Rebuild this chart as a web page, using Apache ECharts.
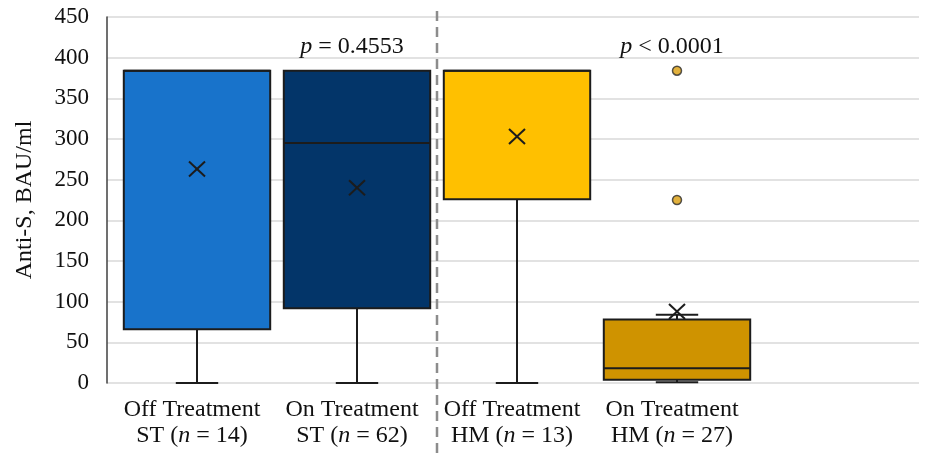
<!DOCTYPE html>
<html>
<head>
<meta charset="utf-8">
<script src="https://cdn.jsdelivr.net/npm/echarts@6/dist/echarts.min.js"></script>
<style>html,body{margin:0;padding:0;background:#fff;}#c{width:933px;height:453px;}</style>
</head>
<body>
<div id="c"></div>
<script>
// ---- data ----
const groupNames = ['Off Treatment', 'On Treatment', 'Off Treatment', 'On Treatment'];
const groupCodes = ['ST', 'ST', 'HM', 'HM'];
const groupN = [14, 62, 13, 27];
const lowVals = [0, 0, 0, 1];
const q1Vals = [66, 92, 226, 4];
const medianVals = [384, 295, 384, 18];
const q3Vals = [384, 384, 384, 78];
const highVals = [384, 384, 384, 84];
const meanVals = [263, 240, 303, 88];
const outlierGroup = [3, 3];
const outlierVals = [384, 225];
const pTexts = ['= 0.4553', '< 0.0001'];
const pGroups = [1, 3];
const dividerAt = [1.5];
const yTicks = [0, 50, 100, 150, 200, 250, 300, 350, 400, 450];

const boxColors = ['#1873CB', '#033569', '#FFC000', '#CF9300'];
const FONT = '"Liberation Serif", "Times New Roman", serif';

const boxData = groupNames.map((_, i) => [i, lowVals[i], q1Vals[i], medianVals[i], q3Vals[i], highVals[i], meanVals[i]]);
const outlierData = outlierGroup.map((g, i) => [g, outlierVals[i]]);

const chart = echarts.init(document.getElementById('c'), null, {renderer: 'canvas'});

function boxRender(params, api) {
  const i = api.value(0);
  const band = api.size([1, 0])[0];
  const x = api.coord([i, 0])[0];
  const bw = band * 0.915;
  const cw = band * 0.265;
  const yL = api.coord([i, api.value(1)])[1];
  const yQ1 = api.coord([i, api.value(2)])[1];
  const yM = api.coord([i, api.value(3)])[1];
  const yQ3 = api.coord([i, api.value(4)])[1];
  const yH = api.coord([i, api.value(5)])[1];
  const yMean = api.coord([i, api.value(6)])[1];
  const stroke = '#1c1c1c';
  const ln = (x1, y1, x2, y2, w) => ({type: 'line', shape: {x1, y1, x2, y2}, style: {stroke, lineWidth: w || 2}});
  const children = [];
  children.push(ln(x, yQ1, x, yL));
  children.push(ln(x - cw / 2, yL, x + cw / 2, yL));
  if (yH < yQ3 - 0.5) {
    children.push(ln(x, yQ3, x, yH));
    children.push(ln(x - cw / 2, yH, x + cw / 2, yH));
  }
  children.push({type: 'rect', shape: {x: x - bw / 2, y: yQ3, width: bw, height: yQ1 - yQ3},
    style: {fill: boxColors[i], stroke, lineWidth: 2}});
  children.push(ln(x - bw / 2, yM, x + bw / 2, yM));
  const mx = 8, my = 7.5;
  children.push(ln(x - mx, yMean - my, x + mx, yMean + my, 2));
  children.push(ln(x - mx, yMean + my, x + mx, yMean - my, 2));
  return {type: 'group', children};
}

const option = {
  animation: false,
  backgroundColor: '#ffffff',
  grid: {left: 107, right: 14, top: 17, bottom: 70, containLabel: false},
  xAxis: {
    type: 'value', min: -0.5625, max: 4.5125,
    axisLine: {show: false, onZero: false}, axisTick: {show: false}, splitLine: {show: false},
    axisLabel: {
      customValues: [0, 1, 2, 3],
      margin: 14,
      padding: [0, 10, 0, 0],
      formatter: v => groupNames[v] + '\n' + groupCodes[v] + ' ({it|n} = ' + groupN[v] + ')',
      color: '#111', fontFamily: FONT, fontSize: 24, lineHeight: 26,
      rich: {it: {fontStyle: 'italic', fontFamily: FONT, fontSize: 24, color: '#111', lineHeight: 26}}
    }
  },
  yAxis: {
    type: 'value', min: 0, max: 450, interval: 50,
    name: 'Anti-S, BAU/ml', nameLocation: 'middle', nameGap: 70, nameRotate: 90,
    nameTextStyle: {fontFamily: FONT, fontSize: 24, color: '#111'},
    axisLine: {show: true, onZero: false, lineStyle: {color: '#404040', width: 1.5}},
    axisTick: {show: false},
    axisLabel: {margin: 18, fontFamily: FONT, fontSize: 23, color: '#111',
      formatter: v => yTicks.indexOf(v) >= 0 ? String(v) : ''},
    splitLine: {show: true, lineStyle: {color: '#d9d9d9', width: 1.5}}
  },
  series: [
    {
      type: 'custom', name: 'divider', z: 1, clip: false,
      data: dividerAt.map(d => [d, 0]),
      encode: {x: 0, y: 1},
      renderItem: (params, api) => {
        const x = api.coord([api.value(0), 0])[0];
        const yTop = api.coord([0, 450])[1] - 6;
        return {type: 'line', shape: {x1: x, y1: yTop, x2: x, y2: api.getHeight()},
          style: {stroke: '#8c8c8c', lineWidth: 2.5, lineDash: [10, 6]}};
      }
    },
    {
      type: 'custom', name: 'boxes', z: 2,
      data: boxData,
      encode: {x: 0, y: [1, 2, 3, 4, 5, 6]},
      renderItem: boxRender
    },
    {
      type: 'scatter', name: 'outliers', z: 3,
      data: outlierData,
      symbol: 'circle', symbolSize: 9,
      itemStyle: {color: '#DB9D0C', borderColor: '#2a2a2a', borderWidth: 1.5}
    },
    {
      type: 'custom', name: 'pvalues', z: 4, clip: false,
      data: pGroups.map((g, i) => [g, 0, i]),
      encode: {x: 0, y: 1},
      renderItem: (params, api) => {
        const g = api.value(0);
        const idx = api.value(2);
        const pt = api.coord([g, 413]);
        return {type: 'text', x: pt[0] - 5, y: pt[1],
          style: {text: '{it|p} ' + pTexts[idx], align: 'center', verticalAlign: 'middle',
            fontFamily: FONT, fontSize: 24, fill: '#111',
            rich: {it: {fontStyle: 'italic', fontFamily: FONT, fontSize: 24, fill: '#111'}}}};
      }
    }
  ]
};
chart.setOption(option);
</script>
</body>
</html>
